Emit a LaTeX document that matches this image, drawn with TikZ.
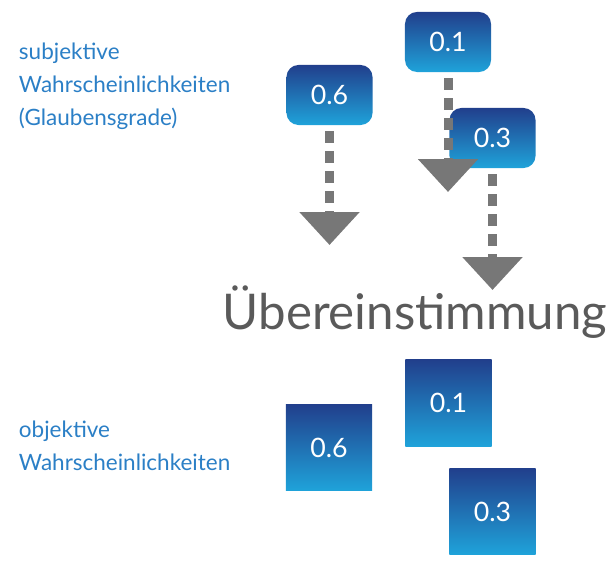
\documentclass[tikz,border=0pt]{standalone}
\usepackage{fontspec}
\setmainfont{Lato}
\usetikzlibrary{arrows.meta}
\definecolor{labelblue}{HTML}{2B7FC6}
\definecolor{topblue}{HTML}{213F8C}
\definecolor{botblue}{HTML}{1FA3DA}
\definecolor{arrowgray}{HTML}{777777}
\definecolor{textgray}{HTML}{5A5A5A}

\begin{document}
\begin{tikzpicture}[
    x = 0.025cm,
    y = -0.025cm,
    prob/.style = {
      top color = topblue,
      bottom color = botblue,
      draw = none,
      text = white,
      minimum width = 2.15cm,
      minimum height = 1.5cm,
      font = \fontsize{19}{22}\selectfont
    },
    belief/.style = {
      prob,
      rounded corners = 0.3cm
    },
    chance/.style = {
      prob,
      minimum height = 2.17cm
    },
    side/.style = {
      text = labelblue,
      anchor = north west,
      align = left,
      font = \fontsize{16}{23.5}\selectfont
    },
    flow/.style = {
      draw = arrowgray,
      line width = 0.225cm,
      dash pattern = on 0.3cm off 0.2cm,
      -{Triangle[width = 1.45cm, length = 0.82cm, sep = 0pt]}
    }
  ]
  \useasboundingbox (0,0) rectangle (609,569);

  \node[side] (subj) at (14,38) {subjektive\\Wahrscheinlichkeiten\\(Glaubensgrade)};
  \node[side] (obj) at (14,416) {objektive\\Wahrscheinlichkeiten};

  \node[belief] (b6) at (329.5,95) {0.6};
  \node[belief] (b1) at (448,42) {0.1};
  \node[belief] (b3) at (492.5,138) {0.3};

  \coordinate (t6) at (329.5,245);
  \coordinate (t1) at (448,192);
  \coordinate (t3) at (492.5,290);

  \draw[flow] (b6.south) ++(0,6) -- (t6);
  \draw[flow] (b1.south) ++(0,6) -- (t1);
  \draw[flow] (b3.south) ++(0,6) -- (t3);

  \node[text = textgray, font = \fontsize{35}{40}\selectfont] (match) at (415,312) {Übereinstimmung};

  \node[chance] (c6) at (329,447.5) {0.6};
  \node[chance] (c1) at (448.5,403) {0.1};
  \node[chance] (c3) at (492.5,511.5) {0.3};
\end{tikzpicture}
\end{document}
